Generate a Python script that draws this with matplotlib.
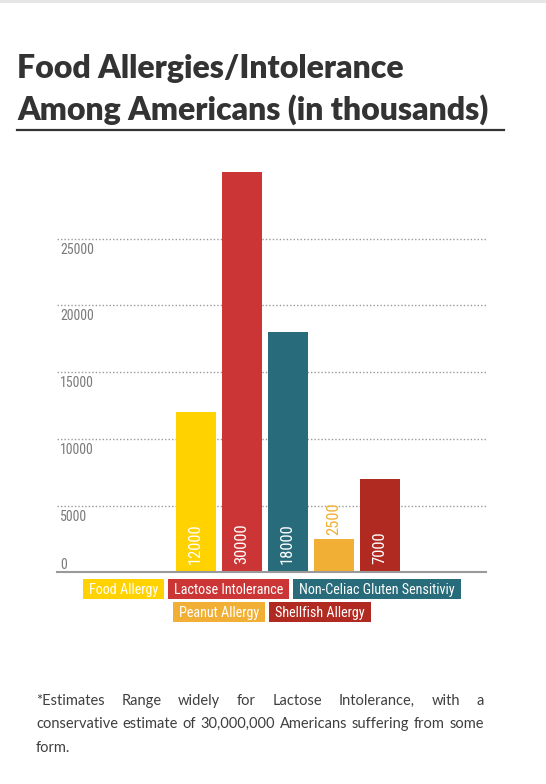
import matplotlib
matplotlib.use('Agg')
import matplotlib.pyplot as plt
from matplotlib import font_manager as fm
from matplotlib.patches import Rectangle
import matplotlib.transforms as mtransforms

# ---------------- data ----------------
categories = ['Food Allergy', 'Lactose Intolerance', 'Non-Celiac Gluten Sensitiviy',
              'Peanut Allergy', 'Shellfish Allergy']
values = [12000, 30000, 18000, 2500, 7000]
colors = ['#FFD200', '#CC3535', '#286B7A', '#F1B035', '#B12A22']
yticks = [0, 5000, 10000, 15000, 20000, 25000]
ytick_labels = ['0', '5000', '10000', '15000', '20000', '25000']
title_lines = ['Food Allergies/Intolerance', 'Among Americans (in thousands)']
footnote_lines = ['*Estimates Range widely for Lactose Intolerance, with a',
                  'conservative estimate of 30,000,000 Americans suffering from some',
                  'form.']
legend_rows = [[0, 1, 2], [3, 4]]

W, H = 546, 784
fig = plt.figure(figsize=(W / 100, H / 100), dpi=100)
fig.patch.set_facecolor('white')

names = {f.name for f in fm.fontManager.ttflist}
def pick(*cands):
    for c in cands:
        if c in names:
            return c
    return 'DejaVu Sans'
narrow = pick('Liberation Sans Narrow', 'Roboto Condensed', 'Open Sans Condensed',
              'Noto Sans Condensed', 'DejaVu Sans Condensed', 'DejaVu Sans')
narrow_kw = dict(family=[narrow, 'DejaVu Sans'])
if narrow == 'DejaVu Sans':
    narrow_kw['stretch'] = 'condensed'
text_font = pick('Lato', 'Open Sans', 'Noto Sans', 'DejaVu Sans')

def fx(px):
    return px / W
def fy(py):
    return 1 - py / H

# top grey strip
fig.patches.append(Rectangle((0, fy(3)), 1, 3 / H, transform=fig.transFigure,
                             facecolor='#e6e6e6', edgecolor='none'))

# ---------------- axes ----------------
ax_l, ax_r, ax_t, ax_b = 57, 486, 172, 572.3
ax = fig.add_axes([fx(ax_l), fy(ax_b), (ax_r - ax_l) / W, (ax_b - ax_t) / H])
x = list(range(len(values)))
ax.bar(x, values, width=40 / 46, color=colors, edgecolor='none', zorder=3)
ax.set_xlim(-3.015, 6.31)
ax.set_ylim(0, 30000)
ax.set_xticks([])
ax.set_yticks(yticks)
ax.set_yticklabels([])
ax.tick_params(axis='y', length=0)
ax.yaxis.grid(True, color='#9a9a9a', linestyle=(0, (1, 1.5)), linewidth=1)
ax.set_axisbelow(True)
for s in ['top', 'left', 'right']:
    ax.spines[s].set_visible(False)
ax.spines['bottom'].set_color('#9a9a9a')
ax.spines['bottom'].set_linewidth(1.5)
ax.spines['bottom'].set_zorder(4)

blend = mtransforms.blended_transform_factory(ax.transAxes, ax.transData)
for v, lab in zip(yticks, ytick_labels):
    dy = 3.3 if v == 0 else -15
    tr = blend + mtransforms.ScaledTranslation(0, dy / 100, fig.dpi_scale_trans)
    ax.text(3 / (ax_r - ax_l), v, lab, transform=tr, ha='left', va='baseline',
            color='#7a7a7a', fontsize=10, **narrow_kw)

for i, v in enumerate(values):
    if v < 5000:
        tr = ax.transData + mtransforms.ScaledTranslation(0, 3.7 / 100, fig.dpi_scale_trans)
        ax.text(i, v, str(v), transform=tr, rotation=90, ha='center', va='bottom',
                color=colors[i], fontsize=12, zorder=5, **narrow_kw)
    else:
        tr = ax.transData + mtransforms.ScaledTranslation(0, 8 / 100, fig.dpi_scale_trans)
        ax.text(i, 0, str(v), transform=tr, rotation=90, ha='center', va='bottom',
                color='white', fontsize=12, zorder=5, **narrow_kw)

# ---------------- text layout helpers ----------------
fig.canvas.draw()
renderer = fig.canvas.get_renderer()
def width_px(t):
    return t.get_window_extent(renderer).width

# title
t1 = fig.text(fx(17), fy(78), title_lines[0], ha='left', va='baseline',
              fontsize=26, fontweight='heavy', color='#333333', family=text_font)
t2 = fig.text(fx(17), fy(120), title_lines[1], ha='left', va='baseline',
              fontsize=26, fontweight='heavy', color='#333333', family=text_font)
scale = 473 / width_px(t2)
t1.set_fontsize(26 * scale)
t2.set_fontsize(26 * scale)
fig.lines.append(plt.Line2D([fx(17), fx(504)], [fy(130), fy(130)], transform=fig.transFigure,
                            color='#333333', linewidth=1.6))

# legend
box_h = 20
pad = 6
gap = 4
row_tops = [579, 601.7]
center_x = 272
row1_target = 378.3
probe_texts = [fig.text(0, 0, categories[i], fontsize=11, **narrow_kw) for i in legend_rows[0]]
raw = sum(width_px(t) for t in probe_texts)
for t in probe_texts:
    t.remove()
leg_fs = 11 * (row1_target - 2 * pad * 3 - gap * 2) / raw
for row, top in zip(legend_rows, row_tops):
    texts = [fig.text(0, 0, categories[i], ha='left', va='baseline', color='white',
                      fontsize=leg_fs, zorder=5, **narrow_kw) for i in row]
    widths = [width_px(t) + 2 * pad for t in texts]
    total = sum(widths) + gap * (len(widths) - 1)
    xs = center_x - total / 2
    for i, t, w in zip(row, texts, widths):
        fig.patches.append(Rectangle((fx(xs), fy(top + box_h)), w / W, box_h / H,
                                     transform=fig.transFigure, facecolor=colors[i],
                                     edgecolor='none', zorder=1))
        t.set_position((fx(xs + pad), fy(top + 15)))
        xs += w + gap

# footnote (justified)
fn_left, fn_right = 36, 484
baselines = [705, 728, 752]
probe = fig.text(0, 0, footnote_lines[1], fontsize=11, family=text_font)
fsize = 11 * (fn_right - fn_left) / width_px(probe) * 0.985
probe.remove()
for li, (line, by) in enumerate(zip(footnote_lines, baselines)):
    words = line.split(' ')
    if li == len(footnote_lines) - 1:
        fig.text(fx(fn_left), fy(by), line, ha='left', va='baseline', fontsize=fsize,
                 color='#3f3f3f', family=text_font)
        continue
    wts = [fig.text(0, fy(by), w, ha='left', va='baseline', fontsize=fsize,
                    color='#3f3f3f', family=text_font) for w in words]
    ws = [width_px(t) for t in wts]
    g = (fn_right - fn_left - sum(ws)) / (len(ws) - 1)
    xs = fn_left
    for t, w in zip(wts, ws):
        t.set_x(fx(xs))
        xs += w + g

fig.savefig('out.png', dpi=100, facecolor='white')
